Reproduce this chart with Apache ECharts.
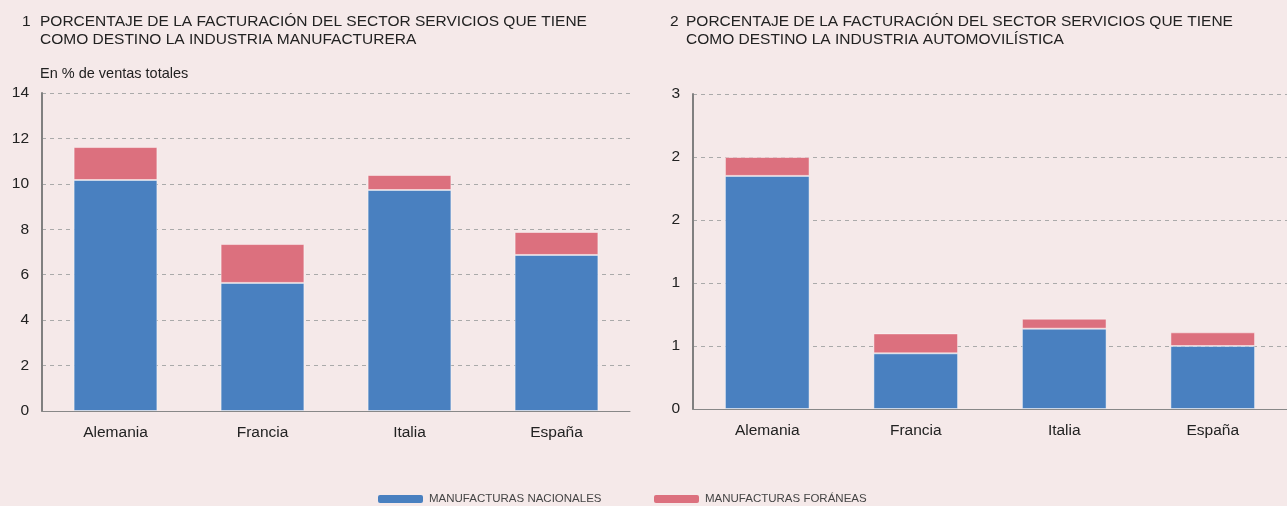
<!DOCTYPE html>
<html>
<head>
<meta charset="utf-8">
<script src="https://cdn.jsdelivr.net/npm/echarts@6/dist/echarts.min.js"></script>
<style>
  html, body { margin: 0; padding: 0; background: #f5e9e9; }
  #chart { width: 1287px; height: 506px; }
</style>
</head>
<body>
<div id="chart"></div>
<script>
const countries = ["Alemania", "Francia", "Italia", "España"];
// panel 1: manufacturing industry (% of total sales)
const manufNacional = [10.17, 5.64, 9.73, 6.87];
const manufForanea = [1.45, 1.71, 0.66, 1.01];
// panel 2: automotive industry
const autoNacional = [2.22, 0.53, 0.765, 0.6];
const autoForanea = [0.18, 0.19, 0.095, 0.13];

const BLUE = "#4980c0";
const RED = "#dc707e";
const FONT = "Liberation Sans";

const chart = echarts.init(document.getElementById("chart"));

const titleStyle = { fontFamily: FONT, fontSize: 15.5, fill: "#222", lineHeight: 18 };

const xAxisCommon = {
  type: "category",
  data: countries,
  axisLine: { lineStyle: { color: "#888", width: 1 } },
  axisTick: { inside: true, length: 5, lineStyle: { color: "#888" } },
  axisLabel: { fontFamily: FONT, fontSize: 15.5, color: "#222", margin: 14 },
};

const yAxisCommon = {
  type: "value",
  min: 0,
  axisLine: { show: true, lineStyle: { color: "#808080", width: 2 } },
  axisTick: { show: false },
  axisLabel: { fontFamily: FONT, fontSize: 15.5, color: "#222", margin: 13 },
  splitLine: { lineStyle: { color: "#aaa", type: [4, 4], width: 1 } },
};

const barStyle = (c) => ({ color: c, borderColor: "rgba(255,255,255,0.45)", borderWidth: 1 });

const legendCommon = {
  top: 488,
  itemWidth: 45,
  itemHeight: 8,
  itemStyle: { borderWidth: 0 },
  textStyle: { fontFamily: FONT, fontSize: 11.5, color: "#444", padding: [0, 0, 0, 1] },
};

chart.setOption({
  backgroundColor: "#f5e9e9",
  animation: false,
  graphic: [
    { type: "text", left: 22, top: 13, style: Object.assign({ text: "1" }, titleStyle) },
    { type: "text", left: 40, top: 13, style: Object.assign({ text: "PORCENTAJE DE LA FACTURACIÓN DEL SECTOR SERVICIOS QUE TIENE\nCOMO DESTINO LA INDUSTRIA MANUFACTURERA" }, titleStyle) },
    { type: "text", left: 40, top: 66, style: { text: "En % de ventas totales", fontFamily: FONT, fontSize: 14.5, fill: "#222" } },
    { type: "text", left: 670, top: 13, style: Object.assign({ text: "2" }, titleStyle) },
    { type: "text", left: 686, top: 13, style: Object.assign({ text: "PORCENTAJE DE LA FACTURACIÓN DEL SECTOR SERVICIOS QUE TIENE\nCOMO DESTINO LA INDUSTRIA AUTOMOVILÍSTICA" }, titleStyle) },
  ],
  legend: [
    Object.assign({ left: 373, data: ["MANUFACTURAS NACIONALES"] }, legendCommon),
    Object.assign({ left: 649, data: ["MANUFACTURAS FORÁNEAS"] }, legendCommon),
  ],
  grid: [
    { left: 42, top: 93, width: 588, height: 318 },
    { left: 693, top: 94, width: 604, height: 315 },
  ],
  xAxis: [
    Object.assign({ gridIndex: 0 }, xAxisCommon),
    Object.assign({ gridIndex: 1 }, xAxisCommon),
  ],
  yAxis: [
    Object.assign({}, yAxisCommon, { gridIndex: 0, max: 14, interval: 2 }),
    Object.assign({}, yAxisCommon, {
      gridIndex: 1, max: 3, interval: 0.6,
      axisLabel: Object.assign({}, yAxisCommon.axisLabel, { formatter: (v) => String(Math.round(v)) }),
    }),
  ],
  series: [
    { name: "MANUFACTURAS NACIONALES", type: "bar", stack: "a", xAxisIndex: 0, yAxisIndex: 0, barWidth: "57%", data: manufNacional, itemStyle: barStyle(BLUE) },
    { name: "MANUFACTURAS FORÁNEAS", type: "bar", stack: "a", xAxisIndex: 0, yAxisIndex: 0, barWidth: "57%", data: manufForanea, itemStyle: barStyle(RED) },
    { name: "MANUFACTURAS NACIONALES", type: "bar", stack: "b", xAxisIndex: 1, yAxisIndex: 1, barWidth: "57%", data: autoNacional, itemStyle: barStyle(BLUE) },
    { name: "MANUFACTURAS FORÁNEAS", type: "bar", stack: "b", xAxisIndex: 1, yAxisIndex: 1, barWidth: "57%", data: autoForanea, itemStyle: barStyle(RED) },
  ],
});
</script>
</body>
</html>
